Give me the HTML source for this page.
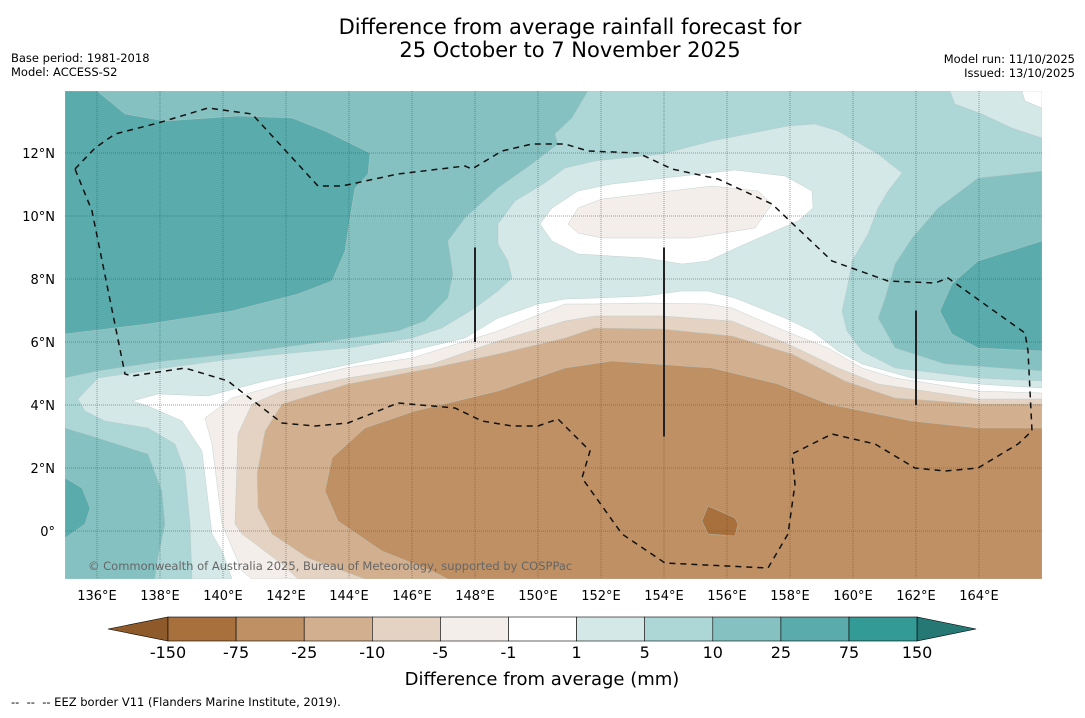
<!DOCTYPE html>
<html><head><meta charset="utf-8"><style>
body{margin:0;background:#fff;width:1085px;height:713px;overflow:hidden;font-family:"Liberation Sans","DejaVu Sans",sans-serif}
svg text{font-family:"DejaVu Sans","Liberation Sans",sans-serif}
</style></head><body>
<svg id="s" width="1085" height="713">
<text x="570" y="34" font-size="21" text-anchor="middle">Difference from average rainfall forecast for</text>
<text x="570" y="57" font-size="21" text-anchor="middle">25 October to 7 November 2025</text>
<text x="11" y="62" font-size="11.5">Base period: 1981-2018</text>
<text x="11" y="76" font-size="11.5">Model: ACCESS-S2</text>
<text x="1075" y="63" font-size="11.5" text-anchor="end">Model run: 11/10/2025</text>
<text x="1075" y="77" font-size="11.5" text-anchor="end">Issued: 13/10/2025</text>
<defs><clipPath id="mc"><rect x="65" y="91" width="977" height="488"/></clipPath></defs>
<g id="map" clip-path="url(#mc)"><rect x="65" y="91" width="977" height="488" fill="#fff"/></g>
<g id="axes"></g>
<text x="88" y="570" font-size="11.5" fill="#666">© Commonwealth of Australia 2025, Bureau of Meteorology, supported by COSPPac</text>
<g id="cbar"></g>
<text x="542" y="685" font-size="18" text-anchor="middle">Difference from average (mm)</text>
<text x="11" y="706" font-size="11.5" xml:space="preserve" style="white-space:pre">--  --  -- EEZ border V11 (Flanders Marine Institute, 2019).</text>
</svg>
<script>
const NS="http://www.w3.org/2000/svg";
const lonTicks=[136,138,140,142,144,146,148,150,152,154,156,158,160,162,164];
const latTicks=[12,10,8,6,4,2,0];
const levelLabels=["-150","-75","-25","-10","-5","-1","1","5","10","25","75","150"];
const binColors=["#8f5a2a","#a8703c","#be9064","#d2b08f","#e4d3c2","#f3eee9","#ffffff","#d5e8e8","#add6d6","#85c1c1","#5aabab","#349a96","#267874"];
function X(lon){return 65.5+(lon-135)*31.5}
function Y(lat){return 531-lat*31.5}
const layers=[
["#d5e8e8","teal-1-5",[[65,91],[1042,91],[1042,388],[978,384],[912,378],[862,364],[838,351],[812,331],[785,318],[735,298],[708,291],[682,291],[645,296],[595,298],[565,299],[538,304],[498,318],[465,338],[398,354],[332,368],[265,381],[208,396],[158,394],[132,401],[148,406],[182,421],[202,451],[212,534],[222,551],[232,579],[65,579]]],
["#add6d6","teal-5-10",[[65,91],[1042,91],[1042,381],[978,378],[895,368],[862,351],[847,331],[842,311],[848,284],[852,261],[868,234],[878,208],[888,191],[902,173],[878,154],[838,131],[815,124],[788,126],[712,141],[662,154],[595,161],[565,168],[545,183],[515,201],[498,224],[498,244],[508,261],[512,278],[498,291],[475,308],[442,328],[412,338],[348,348],[282,354],[232,359],[165,368],[98,378],[78,399],[85,411],[105,421],[148,428],[175,444],[185,471],[190,524],[192,579],[65,579]]],
["#d5e8e8","teal-corner",[[950,91],[955,104],[982,114],[1012,128],[1042,138],[1042,91]]],
["#ffffff","white-corner",[[1022,91],[1025,101],[1042,108],[1042,91]]],
["#ffffff","white-hole",[[540,224],[552,208],[578,191],[612,184],[735,170],[785,176],[812,191],[813,208],[798,221],[745,244],[708,261],[682,264],[645,258],[578,254],[552,241]]],
["#f3eee9","dry-patch",[[568,224],[578,208],[602,199],[712,186],[758,191],[772,204],[755,228],[692,238],[602,238],[578,233]]],
["#85c1c1","teal-10-25-west",[[65,91],[588,91],[572,118],[555,134],[558,144],[532,164],[498,188],[465,218],[448,241],[453,274],[448,298],[425,321],[398,331],[332,341],[232,354],[165,361],[98,371],[65,378]]],
["#85c1c1","teal-10-25-sw",[[65,428],[98,438],[148,454],[162,491],[165,524],[158,558],[155,579],[65,579]]],
["#85c1c1","teal-10-25-east",[[1042,171],[978,178],[938,208],[912,238],[895,264],[885,298],[878,318],[895,348],[945,364],[1042,371]]],
["#5aabab","teal-25-75-west",[[65,91],[97,91],[125,114],[165,121],[238,116],[292,118],[325,131],[370,153],[368,174],[355,188],[350,218],[345,251],[332,281],[298,294],[232,311],[148,324],[65,334]]],
["#5aabab","teal-25-75-sw",[[65,478],[82,488],[90,508],[85,524],[65,538]]],
["#5aabab","teal-25-75-east",[[1042,241],[978,261],[952,284],[940,311],[952,334],[978,348],[1042,351]]],
["#f3eee9","brown-1-5",[[1042,393],[978,391],[895,378],[862,368],[828,348],[785,331],[732,308],[708,304],[645,303],[595,304],[565,304],[498,331],[412,358],[345,368],[282,384],[232,398],[205,418],[212,444],[218,491],[222,524],[242,571],[252,579],[1042,579]]],
["#e4d3c2","brown-5-10",[[1042,399],[978,399],[878,384],[838,368],[788,344],[732,321],[662,316],[595,316],[565,321],[498,341],[432,364],[348,378],[282,391],[252,404],[238,434],[235,524],[242,534],[282,564],[298,579],[1042,579]]],
["#d2b08f","brown-10-25",[[1042,404],[978,404],[895,398],[845,381],[792,354],[732,336],[662,329],[595,328],[565,338],[498,354],[432,368],[348,384],[282,404],[265,431],[257,474],[258,508],[272,534],[308,558],[365,579],[1042,579]]],
["#be9064","brown-25-75",[[1042,428],[978,428],[912,421],[828,404],[778,384],[712,368],[612,361],[565,368],[498,391],[415,411],[365,428],[332,458],[325,491],[338,521],[382,551],[432,571],[448,579],[1042,579]]],
["#a8703c","brown-75-150",[[708,506],[735,518],[738,524],[735,536],[708,534],[702,521]]]
];
const eez=[[75,169],[95,148],[115,134],[158,123],[208,108],[252,114],[318,186],[342,186],[398,174],[465,166],[472,169],[502,151],[532,144],[565,144],[588,151],[638,153],[672,169],[718,179],[772,204],[832,261],[888,281],[935,283],[948,278],[1025,333],[1028,351],[1032,431],[1018,444],[978,468],[945,471],[915,468],[875,444],[832,434],[792,454],[795,484],[788,534],[768,568],[665,563],[622,534],[582,478],[590,451],[558,419],[538,426],[512,426],[482,421],[455,408],[398,403],[348,423],[315,426],[282,423],[238,389],[228,381],[185,368],[132,376],[125,374],[92,211]];
const lines=[[148,6,9],[154,3,9],[162,4,7]];
const map=document.getElementById('map');
layers.forEach(l=>{const p=document.createElementNS(NS,'polygon');p.setAttribute('points',l[2].map(q=>q.join(',')).join(' '));p.setAttribute('fill',l[0]);p.setAttribute('stroke','#b8c8c8');p.setAttribute('stroke-width','0.4');


map.appendChild(p);});
lonTicks.forEach(v=>{const g=document.createElementNS(NS,'line');g.setAttribute('x1',X(v));g.setAttribute('x2',X(v));g.setAttribute('y1',91);g.setAttribute('y2',579);g.setAttribute('stroke','#555');g.setAttribute('stroke-opacity','0.55');g.setAttribute('stroke-width','1');g.setAttribute('stroke-dasharray','1 1');


map.appendChild(g);});
latTicks.forEach(v=>{const g=document.createElementNS(NS,'line');g.setAttribute('x1',65);g.setAttribute('x2',1042);g.setAttribute('y1',Y(v));g.setAttribute('y2',Y(v));g.setAttribute('stroke','#555');g.setAttribute('stroke-opacity','0.55');g.setAttribute('stroke-width','1');g.setAttribute('stroke-dasharray','1 1');


map.appendChild(g);});
const e=document.createElementNS(NS,'polygon');e.setAttribute('points',eez.map(q=>q.join(',')).join(' '));e.setAttribute('fill','none');e.setAttribute('stroke','#111');e.setAttribute('stroke-width','1.5');e.setAttribute('stroke-dasharray','6 5');


map.appendChild(e);
lines.forEach(l=>{const g=document.createElementNS(NS,'line');g.setAttribute('x1',X(l[0]));g.setAttribute('x2',X(l[0]));g.setAttribute('y1',Y(l[2]));g.setAttribute('y2',Y(l[1]));g.setAttribute('stroke','#222');g.setAttribute('stroke-width','2');


map.appendChild(g);});
const ax=document.getElementById('axes');
lonTicks.forEach(v=>{const t=document.createElementNS(NS,'text');t.setAttribute('x',X(v));t.setAttribute('y',600);t.setAttribute('font-size','13');t.setAttribute('text-anchor','middle');t.textContent=v+'°E';


ax.appendChild(t);});
latTicks.forEach(v=>{const t=document.createElementNS(NS,'text');t.setAttribute('x',55);t.setAttribute('y',Y(v)+5);t.setAttribute('font-size','13');t.setAttribute('text-anchor','end');t.textContent=v===0?'0°':v+'°N';


ax.appendChild(t);});
const cb=document.getElementById('cbar');
const x0=168,w=68.1,y0=617,h=24;
const nb=binColors.length;
binColors.forEach((c,i)=>{let el;
if(i===0){el=document.createElementNS(NS,'polygon');el.setAttribute('points',`${x0},${y0} ${x0},${y0+h} 108,${y0+h/2}`);}
else if(i===nb-1){const xe=x0+w*(nb-2);el=document.createElementNS(NS,'polygon');el.setAttribute('points',`${xe},${y0} ${xe},${y0+h} ${xe+59},${y0+h/2}`);}
else{el=document.createElementNS(NS,'rect');el.setAttribute('x',x0+w*(i-1));el.setAttribute('y',y0);el.setAttribute('width',w);el.setAttribute('height',h);}
el.setAttribute('fill',c);el.setAttribute('stroke','#000');el.setAttribute('stroke-width','0.6');


cb.appendChild(el);});
levelLabels.forEach((s,i)=>{const t=document.createElementNS(NS,'text');t.setAttribute('x',x0+w*i);t.setAttribute('y',658);t.setAttribute('font-size','16');t.setAttribute('text-anchor','middle');t.textContent=s;


cb.appendChild(t);});
</script>
</body></html>
